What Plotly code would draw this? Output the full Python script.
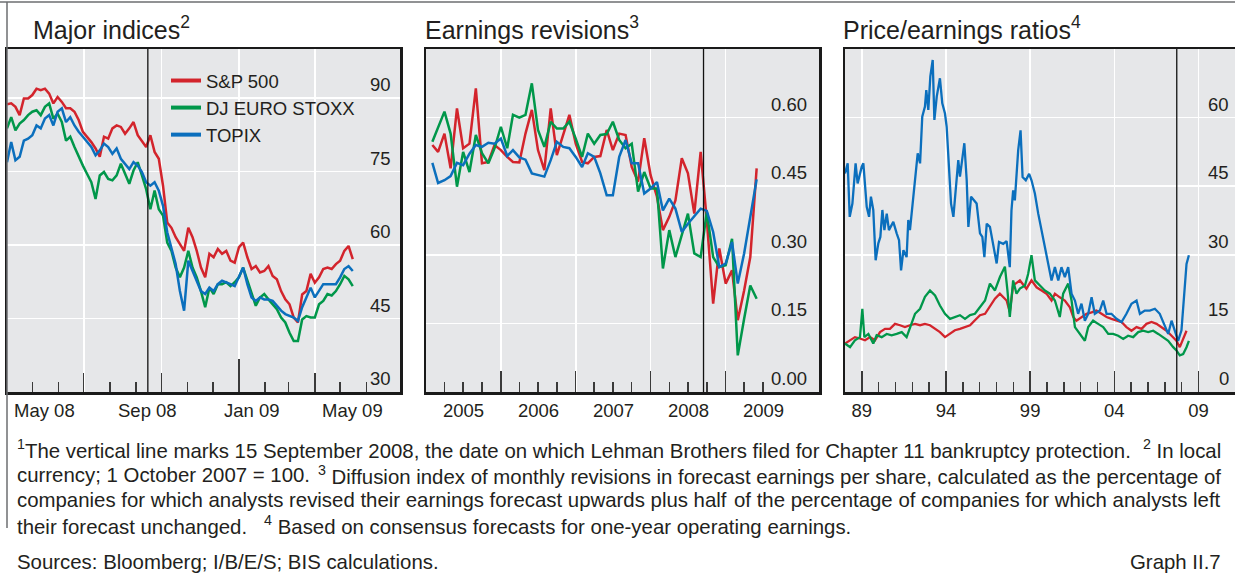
import pandas as pd
import plotly.graph_objects as go

W, H = 1235, 579
FONT = "Liberation Sans, Arial, sans-serif"
RED, GREEN, BLUE = "#d3242c", "#00974a", "#0b6fbd"
BG = "#e6e7e9"
TXT = "#231f20"
TICKC = "#3a3a3a"
AXLINE = "#1a1a1a"

SERIES = ["S&P 500", "DJ EURO STOXX", "TOPIX"]
COLORS = [RED, GREEN, BLUE]

# ---------------- Panel 1: Major indices (1 Oct 2007 = 100), read every 5 days from 1 Apr 2008
IDX_START = "2008-04-01"
sp500_idx = [88.7, 88.9, 88.2, 86.5, 89.9, 89.9, 90.6, 91.9, 91.6, 91.9,
             90.9, 88.9, 90.2, 89.2, 87.9, 87.9, 87.2, 85.5, 83.1, 82.1,
             81.0, 79.7, 78.0, 82.1, 81.7, 83.8, 84.4, 84.1, 82.7, 83.8,
             85.1, 82.4, 81.3, 80.0, 82.4, 79.0, 77.6, 72.1, 64.6, 63.5,
             61.6, 60.2, 58.8, 63.5, 61.6, 58.8, 55.4, 53.4, 58.2, 57.5,
             59.2, 58.2, 58.8, 56.8, 56.4, 59.5, 60.5, 57.5, 55.1, 55.7,
             54.4, 54.7, 55.7, 53.7, 53.0, 50.6, 48.9, 47.9, 45.2, 44.2,
             49.9, 50.6, 54.1, 52.3, 53.4, 55.1, 55.4, 55.1, 56.1, 56.8,
             58.8, 59.8, 57.1]
euro_idx = [83.8, 86.1, 83.4, 84.8, 85.5, 86.5, 87.2, 87.5, 86.5, 88.2,
            88.9, 85.8, 86.8, 85.1, 81.3, 82.1, 80.0, 78.0, 76.2, 74.5,
            72.8, 69.4, 74.2, 74.9, 73.5, 73.2, 74.2, 76.6, 74.5, 72.5,
            75.2, 76.9, 74.2, 71.4, 67.3, 71.1, 67.3, 66.0, 60.5, 58.8,
            55.4, 53.4, 55.4, 58.8, 55.4, 53.4, 50.6, 47.3, 51.3, 50.0,
            52.0, 52.0, 52.4, 51.6, 52.4, 53.4, 55.4, 52.7, 50.0, 47.6,
            49.3, 50.0, 48.9, 47.9, 46.9, 45.2, 44.2, 42.1, 40.4, 40.4,
            44.8, 45.5, 45.2, 45.2, 47.9, 48.6, 50.0, 49.7, 50.6, 52.0,
            53.7, 53.0, 51.6]
topix_idx = [76.9, 81.0, 77.3, 78.0, 81.3, 81.7, 82.4, 84.4, 83.8, 85.8,
             86.5, 84.4, 87.2, 87.9, 85.1, 86.1, 84.4, 83.1, 82.1, 81.0,
             80.0, 78.3, 79.3, 80.7, 80.0, 78.6, 79.7, 77.6, 76.6, 75.5,
             76.9, 76.2, 74.9, 72.8, 72.1, 72.8, 71.1, 68.0, 62.6, 59.5,
             56.1, 50.6, 46.6, 56.8, 54.7, 52.7, 50.6, 50.0, 51.3, 50.6,
             52.0, 52.7, 52.4, 52.0, 51.6, 53.7, 55.4, 52.0, 49.3, 48.6,
             49.3, 48.9, 48.9, 48.6, 47.6, 46.6, 45.9, 45.5, 45.2, 44.5,
             47.3, 49.3, 51.3, 49.3, 50.6, 52.0, 52.0, 52.0, 52.0, 53.4,
             55.1, 55.7, 54.7]
idx_dates = pd.date_range(IDX_START, periods=len(sp500_idx), freq="5D")
IDX_XRANGE = ["2008-04-01", "2009-07-11"]
IDX_YRANGE = [30, 100]
IDX_GRID = ["2008-07-01", "2008-10-01", "2009-01-01", "2009-04-01"]
IDX_MINOR = ["2008-05-01", "2008-06-01", "2008-08-01", "2008-09-01", "2008-11-01",
             "2008-12-01", "2009-02-01", "2009-03-01", "2009-05-01", "2009-06-01"]
IDX_YEAR_TICK = "2009-01-01"
IDX_LABEL_POS = ["2008-05-16", "2008-09-15", "2009-01-16", "2009-05-16"]
IDX_LABELS = ["May 08", "Sep 08", "Jan 09", "May 09"]
IDX_YTICKS = [30, 45, 60, 75, 90]

# ---------------- Panel 2: Earnings revisions, monthly Feb 2005 - Jun 2009
REV_START = "2005-02-01"
rev_sp500 = [0.540, 0.525, 0.565, 0.489, 0.620, 0.533, 0.543, 0.664, 0.500, 0.503, 0.540,
             0.529, 0.514, 0.503, 0.502, 0.565, 0.617, 0.529, 0.485, 0.620, 0.518, 0.565, 0.606,
             0.543, 0.503, 0.500, 0.514, 0.516, 0.573, 0.529, 0.565, 0.562, 0.492, 0.460, 0.555,
             0.474, 0.427, 0.354, 0.383, 0.419, 0.511, 0.478, 0.390, 0.525, 0.376, 0.193, 0.314,
             0.237, 0.266, 0.157, 0.222, 0.295, 0.489]
rev_euro = [0.547, 0.580, 0.613, 0.565, 0.449, 0.525, 0.481, 0.562, 0.522, 0.500, 0.533,
            0.580, 0.533, 0.606, 0.600, 0.606, 0.675, 0.573, 0.536, 0.591, 0.576, 0.576, 0.591,
            0.554, 0.514, 0.565, 0.543, 0.562, 0.564, 0.591, 0.551, 0.533, 0.543, 0.438, 0.481,
            0.445, 0.445, 0.270, 0.354, 0.295, 0.346, 0.390, 0.303, 0.295, 0.394, 0.295, 0.273,
            0.277, 0.335, 0.080, 0.160, 0.233, 0.204]
rev_topix = [0.501, 0.457, 0.463, 0.472, 0.501, 0.496, 0.521, 0.540, 0.536, 0.545, 0.543,
             0.554, 0.516, 0.529, 0.513, 0.508, 0.478, 0.474, 0.471, 0.507, 0.547, 0.536, 0.533,
             0.514, 0.492, 0.522, 0.514, 0.478, 0.430, 0.430, 0.514, 0.551, 0.500, 0.500, 0.434,
             0.445, 0.459, 0.397, 0.423, 0.401, 0.350, 0.368, 0.384, 0.401, 0.396, 0.350, 0.273,
             0.281, 0.328, 0.237, 0.303, 0.383, 0.465]
rev_dates = pd.date_range(REV_START, periods=len(rev_sp500), freq="MS")
REV_XRANGE = ["2005-01-01", "2010-04-01"]
REV_YRANGE = [0, 0.75]
REV_GRID = ["2006-01-01", "2007-01-01", "2008-01-01", "2009-01-01"]
REV_MINOR = [f"{y}-{m:02d}-01" for y in range(2005, 2010) for m in (4, 7, 10)
             if not (y == 2009 and m == 10)]
REV_LABEL_POS = ["2005-07-02", "2006-07-02", "2007-07-02", "2008-07-02", "2009-07-02"]
REV_LABELS = ["2005", "2006", "2007", "2008", "2009"]
REV_YTICKS = [0, 0.15, 0.30, 0.45, 0.60]

# ---------------- Panel 3: Price/earnings ratios (decimal years)
pe_topix_t = [1989.00, 1989.16, 1989.28, 1989.44, 1989.63, 1989.75, 1989.99, 1990.09, 1990.29, 1990.43,
              1990.54, 1990.68, 1990.82, 1990.98, 1991.10, 1991.22, 1991.34, 1991.48, 1991.61, 1991.87,
              1992.07, 1992.21, 1992.33, 1992.47, 1992.66, 1992.76, 1992.86, 1993.02, 1993.16, 1993.32,
              1993.46, 1993.59, 1993.75, 1993.83, 1993.95, 1994.07, 1994.21, 1994.31, 1994.45, 1994.64,
              1994.78, 1994.94, 1995.04, 1995.18, 1995.30, 1995.44, 1995.59, 1995.73, 1995.83, 1995.97,
              1996.09, 1996.23, 1996.33, 1996.49, 1996.62, 1996.82, 1997.02, 1997.16, 1997.28, 1997.42,
              1997.61, 1997.81, 1998.01, 1998.15, 1998.40, 1998.60, 1998.79, 1998.89, 1998.99, 1999.09,
              1999.29, 1999.43, 1999.55, 1999.74, 1999.94, 2000.08, 2000.28, 2000.48, 2000.68, 2000.87,
              2001.07, 2001.27, 2001.47, 2001.67, 2001.86, 2002.06, 2002.26, 2002.46, 2002.66, 2002.85,
              2003.05, 2003.25, 2003.45, 2003.65, 2003.84, 2004.14, 2004.34, 2004.54, 2004.83, 2005.13,
              2005.43, 2005.72, 2006.02, 2006.32, 2006.52, 2006.81, 2007.11, 2007.41, 2007.70, 2008.00,
              2008.20, 2008.40, 2008.60, 2008.79, 2008.99, 2009.13, 2009.29, 2009.43]
pe_topix = [47.8, 50.0, 38.3, 41.2, 50.0, 45.6, 49.2, 50.0, 40.5, 38.3,
            42.7, 39.8, 28.8, 32.5, 33.9, 39.8, 35.4, 39.0, 35.4, 37.2,
            34.7, 33.2, 26.6, 31.0, 29.5, 37.6, 35.4, 41.2, 46.3, 52.2,
            50.0, 60.2, 62.4, 66.0, 61.7, 69.0, 72.6, 59.5, 64.6, 68.6,
            63.1, 60.9, 58.0, 49.2, 41.2, 38.3, 45.6, 50.7, 47.1, 50.7,
            54.4, 46.3, 36.1, 42.7, 42.0, 41.2, 34.7, 33.9, 29.5, 36.8,
            36.1, 32.5, 28.1, 32.8, 32.4, 33.0, 27.3, 39.7, 44.1, 41.9,
            52.9, 57.2, 47.0, 46.3, 47.7, 46.3, 43.4, 39.0, 35.3, 31.0,
            27.3, 24.4, 27.3, 24.4, 27.3, 25.1, 27.3, 21.5, 20.0, 17.1,
            19.3, 15.6, 17.1, 20.7, 17.1, 17.8, 20.0, 17.1, 17.1, 16.0,
            15.3, 17.1, 19.3, 20.0, 17.1, 17.8, 17.8, 18.2, 17.1, 14.2,
            12.7, 15.6, 13.4, 11.2, 13.5, 20.0, 28.0, 29.9]
pe_sp_t = [1989.00, 1989.30, 1989.59, 1989.89, 1990.19, 1990.49, 1990.78, 1991.08, 1991.38, 1991.67,
           1991.97, 1992.27, 1992.56, 1992.86, 1993.16, 1993.46, 1993.75, 1994.05, 1994.35, 1994.64,
           1994.94, 1995.24, 1995.53, 1995.83, 1996.13, 1996.43, 1996.72, 1997.02, 1997.32, 1997.61,
           1997.91, 1998.20, 1998.60, 1998.79, 1998.99, 1999.39, 1999.78, 2000.08, 2000.38, 2000.68,
           2000.97, 2001.27, 2001.47, 2001.76, 2002.06, 2002.36, 2002.56, 2002.75, 2003.05, 2003.35,
           2003.65, 2003.94, 2004.24, 2004.54, 2004.83, 2005.13, 2005.43, 2005.72, 2006.02, 2006.32,
           2006.62, 2006.91, 2007.21, 2007.51, 2007.80, 2008.10, 2008.40, 2008.69, 2008.89, 2009.09,
           2009.29]
pe_sp = [10.6, 11.3, 12.0, 11.7, 11.3, 12.0, 11.3, 13.1, 13.8, 13.8,
         14.9, 14.6, 14.2, 14.6, 14.9, 14.6, 14.9, 14.6, 13.8, 13.1,
         12.0, 12.7, 13.5, 13.8, 14.2, 14.6, 15.7, 16.8, 17.1, 18.6,
         20.4, 21.5, 20.0, 17.5, 23.3, 24.4, 22.6, 24.4, 22.9, 22.2,
         21.5, 20.0, 21.5, 20.7, 20.0, 18.5, 16.4, 15.6, 16.4, 17.1,
         17.4, 17.8, 17.1, 16.4, 16.0, 15.6, 15.3, 14.2, 13.4, 14.2,
         13.8, 14.9, 15.3, 14.9, 14.2, 13.4, 12.3, 11.2, 9.8, 11.6,
         13.4]
pe_euro_t = [1989.00, 1989.30, 1989.59, 1989.89, 1990.03, 1990.15, 1990.39, 1990.68, 1990.88, 1991.18,
             1991.48, 1991.77, 1992.07, 1992.37, 1992.66, 1992.86, 1993.16, 1993.46, 1993.75, 1994.05,
             1994.35, 1994.64, 1994.94, 1995.24, 1995.53, 1995.83, 1996.13, 1996.43, 1996.72, 1997.02,
             1997.32, 1997.61, 1997.91, 1998.21, 1998.50, 1998.65, 1998.79, 1998.99, 1999.19, 1999.39,
             1999.69, 1999.88, 2000.08, 2000.28, 2000.58, 2000.87, 2001.17, 2001.47, 2001.76, 2001.96,
             2002.26, 2002.46, 2002.66, 2002.95, 2003.25, 2003.45, 2003.74, 2004.04, 2004.34, 2004.64,
             2004.93, 2005.23, 2005.53, 2005.82, 2006.12, 2006.42, 2006.71, 2007.01, 2007.31, 2007.61,
             2007.90, 2008.20, 2008.50, 2008.69, 2008.89, 2009.09, 2009.29, 2009.43]
pe_euro = [10.6, 9.8, 11.3, 12.0, 18.2, 12.0, 12.7, 10.6, 12.4, 12.0,
           12.7, 12.4, 12.7, 13.1, 12.0, 14.2, 17.1, 18.2, 20.8, 22.2,
           21.1, 18.9, 17.1, 16.0, 16.4, 16.8, 16.0, 16.8, 17.1, 18.6,
           20.0, 23.7, 22.2, 25.2, 27.4, 22.2, 16.4, 24.4, 21.5, 22.6,
           23.3, 25.8, 29.9, 24.4, 23.3, 22.2, 21.5, 20.0, 16.4, 21.5,
           23.7, 20.0, 14.2, 12.7, 11.2, 14.2, 15.6, 14.9, 14.2, 12.7,
           12.7, 12.3, 11.6, 12.3, 12.0, 13.1, 13.4, 13.1, 13.4, 12.7,
           12.0, 11.2, 9.8, 9.1, 8.0, 8.3, 9.8, 11.2]
PE_XRANGE = [1989.0, 2012.17]
PE_YRANGE = [0, 75]
PE_GRID = [1990, 1995, 2000, 2005, 2010]
PE_GRID_TEXT = ["89", "94", "99", "04", "09"]
PE_MINOR = [y for y in range(1991, 2010) if y not in PE_GRID]
PE_YTICKS = [0, 15, 30, 45, 60]

LEHMAN = "2008-09-15"
LEHMAN_DEC = 2008.71

# ---------------- geometry (pixels)
PLOT_TOP, PLOT_BOT = 49, 392
PANELS = [(7, 400), (426, 819), (845, 1235)]


def fx(p):
    return p / W


def fy(p):
    return 1 - p / H


fig = go.Figure()

p1 = [sp500_idx, euro_idx, topix_idx]
p2 = [rev_sp500, rev_euro, rev_topix]
p3 = [(pe_sp_t, pe_sp), (pe_euro_t, pe_euro), (pe_topix_t, pe_topix)]
LW = 2.5
for name, col, vals in zip(SERIES, COLORS, p1):
    fig.add_trace(go.Scatter(x=idx_dates, y=vals, mode="lines", line=dict(color=col, width=LW),
                             showlegend=False, xaxis="x", yaxis="y", name=name))
for name, col, vals in zip(SERIES, COLORS, p2):
    fig.add_trace(go.Scatter(x=rev_dates, y=vals, mode="lines", line=dict(color=col, width=LW),
                             showlegend=False, xaxis="x2", yaxis="y2", name=name))
for name, col, (t, vals) in zip(SERIES, COLORS, p3):
    fig.add_trace(go.Scatter(x=t, y=vals, mode="lines", line=dict(color=col, width=LW - 0.2),
                             showlegend=False, xaxis="x3", yaxis="y3", name=name))
# legend entries
for name, col in zip(SERIES, COLORS):
    fig.add_trace(go.Scatter(x=[None], y=[None], mode="lines", line=dict(color=col, width=4),
                             name=name, showlegend=True, xaxis="x", yaxis="y"))


def xaxis_common(dom, rng, grid, minor, ticklen, ticktext=None, typ="date"):
    d = dict(domain=[fx(dom[0]), fx(dom[1])], range=rng, type=typ,
             tickmode="array", tickvals=grid, ticks="inside", ticklen=ticklen, tickwidth=1.5,
             tickcolor=TICKC, showgrid=True, gridcolor="white", gridwidth=1.6,
             showline=True, linecolor=AXLINE, linewidth=2.5, mirror=True, zeroline=False,
             fixedrange=True,
             minor=dict(tickmode="array", tickvals=minor, ticks="inside", ticklen=10,
                        tickwidth=1.5, tickcolor=TICKC, showgrid=False))
    if ticktext is None:
        d["showticklabels"] = False
    else:
        d["ticktext"] = ticktext
        d["showticklabels"] = True
        d["tickfont"] = dict(family=FONT, size=18.5, color=TXT)
    return d


def yaxis_common(rng, ticks, mirror=True):
    return dict(domain=[fy(PLOT_BOT), fy(PLOT_TOP)], range=rng, tickmode="array",
                tickvals=[t for t in ticks if t != rng[0]], showticklabels=False, ticks="",
                showgrid=True, gridcolor="white", gridwidth=1.6, zeroline=False,
                showline=True, linecolor=AXLINE, linewidth=2.5, mirror=mirror, fixedrange=True)


fig.update_layout(
    width=W, height=H, margin=dict(l=0, r=0, t=0, b=0),
    paper_bgcolor="white", plot_bgcolor=BG,
    font=dict(family=FONT, color=TXT),
    xaxis=dict(**xaxis_common(PANELS[0], IDX_XRANGE, IDX_GRID, IDX_MINOR, 19), anchor="y"),
    yaxis=dict(**yaxis_common(IDX_YRANGE, IDX_YTICKS), anchor="x"),
    xaxis2=dict(**xaxis_common(PANELS[1], REV_XRANGE, REV_GRID, REV_MINOR, 21), anchor="y2"),
    yaxis2=dict(**yaxis_common(REV_YRANGE, REV_YTICKS), anchor="x2"),
    xaxis3=dict(**xaxis_common(PANELS[2], PE_XRANGE, PE_GRID, PE_MINOR, 21, PE_GRID_TEXT, "linear"),
                anchor="y3", ticklabelstandoff=0),
    yaxis3=dict(**yaxis_common(PE_YRANGE, PE_YTICKS, mirror=False), anchor="x3"),
    # long year tick for Jan 09 on panel 1
    xaxis4=dict(domain=[fx(PANELS[0][0]), fx(PANELS[0][1])], range=IDX_XRANGE, type="date",
                overlaying="x", anchor="y", tickmode="array", tickvals=[IDX_YEAR_TICK],
                ticks="inside", ticklen=33, tickwidth=1.5, tickcolor=TICKC,
                showticklabels=False, showgrid=False, showline=False, zeroline=False),
    legend=dict(x=fx(166), y=fy(62), xanchor="left", yanchor="top",
                font=dict(family=FONT, size=18.5, color=TXT), bgcolor="rgba(0,0,0,0)",
                itemwidth=30, tracegroupgap=0),
    showlegend=True,
)
# invisible carrier so xaxis4 is drawn
fig.add_trace(go.Scatter(x=[IDX_XRANGE[0]], y=[None], xaxis="x4", yaxis="y",
                         showlegend=False, hoverinfo="skip"))

ann = []
shapes = []

# panel titles
TITLES = [("Major indices<sup>2</sup>", 33), ("Earnings revisions<sup>3</sup>", 425),
          ("Price/earnings ratios<sup>4</sup>", 843)]
for txt, x0 in TITLES:
    ann.append(dict(text=txt, x=fx(x0 - 2), y=fy(28), xref="paper", yref="paper",
                    xanchor="left", yanchor="middle", showarrow=False,
                    font=dict(family=FONT, size=25, color=TXT)))

# x labels between ticks (panels 1, 2)
for xa, ya, pos, labs in [("x", "y", IDX_LABEL_POS, IDX_LABELS), ("x2", "y2", REV_LABEL_POS, REV_LABELS)]:
    for p, l in zip(pos, labs):
        ann.append(dict(text=l, x=p, xref=xa, y=0, yref=f"{ya} domain", yanchor="top",
                        yshift=-6, showarrow=False,
                        font=dict(family=FONT, size=18.5, color=TXT)))

# y tick labels inside plot, right side above gridline
for xa, ya, ticks, fmt, shift in [("x", "y", IDX_YTICKS, "{:.0f}", -7),
                                  ("x2", "y2", REV_YTICKS, "{:.2f}", -10),
                                  ("x3", "y3", PE_YTICKS, "{:.0f}", -4)]:
    for t in ticks:
        ann.append(dict(text=fmt.format(t), x=1, xref=f"{xa} domain", xanchor="right", xshift=shift,
                        y=t, yref=ya, yanchor="bottom", yshift=1, showarrow=False,
                        font=dict(family=FONT, size=18.5, color=TXT)))

# Lehman lines
for xa, ya, xv in [("x", "y", LEHMAN), ("x2", "y2", LEHMAN), ("x3", "y3", LEHMAN_DEC)]:
    shapes.append(dict(type="line", xref=xa, x0=xv, x1=xv, yref=f"{ya} domain", y0=0, y1=1,
                       line=dict(color="#111", width=1.3), layer="above"))

# frame lines
shapes.append(dict(type="line", xref="paper", yref="paper", x0=0, x1=1, y0=fy(2), y1=fy(2),
                   line=dict(color="#6d6e70", width=1.5)))
shapes.append(dict(type="line", xref="paper", yref="paper", x0=fx(7), x1=fx(7), y0=fy(2), y1=fy(528),
                   line=dict(color="#6d6e70", width=1.5)))

# footnotes
NB = "\u00a0"
FN = 20.4
foot = [
    ("<sup>1</sup>The vertical line marks 15 September 2008, the date on which Lehman Brothers filed for Chapter 11 bankruptcy protection.", "left", 15, 449),
    ("<sup>2</sup>" + NB + "In local", "right", 1223, 449),
    ("currency; 1 October 2007 = 100.", "left", 15, 475),
    ("<sup>3</sup>" + NB + "Diffusion index of monthly revisions in forecast earnings per share, calculated as the percentage of", "right", 1223, 475),
    ("companies for which analysts revised their earnings forecast upwards plus half", "left", 15, 500),
    ("of the percentage of companies for which analysts left", "right", 1223, 500),
    ("their forecast unchanged." + NB * 3 + "<sup>4</sup>" + NB + "Based on consensus forecasts for one-year operating earnings.", "left", 15, 525),
    ("Sources: Bloomberg; I/B/E/S; BIS calculations.", "left", 15, 562),
    ("Graph II.7", "right", 1223, 562),
]
for txt, anc, xp, yp in foot:
    ann.append(dict(text=txt, x=fx(xp), y=fy(yp), xref="paper", yref="paper", xanchor=anc,
                    yanchor="middle", showarrow=False, font=dict(family=FONT, size=FN, color=TXT)))

fig.update_layout(annotations=ann, shapes=shapes)
fig.write_html("out.html",
               config={"displayModeBar": False, "staticPlot": True},
               post_script="document.body.style.margin='0';document.body.style.padding='0';"
                           "document.body.style.overflow='hidden';")
